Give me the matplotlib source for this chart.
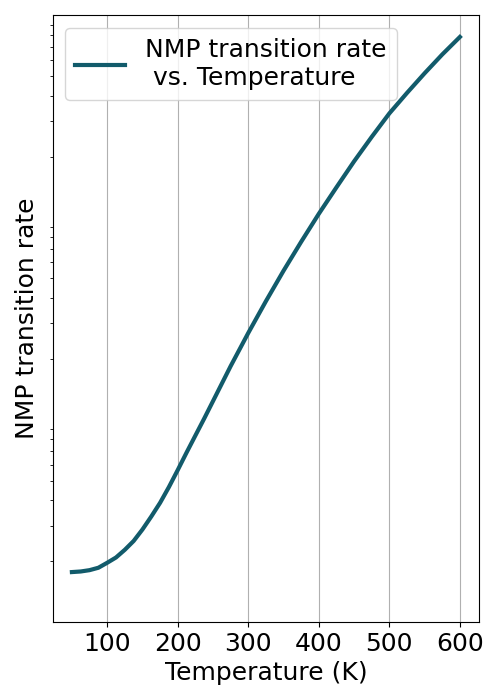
import matplotlib
matplotlib.use('Agg')
import matplotlib.pyplot as plt

# temperature (K) and NMP transition rate (arbitrary units)
temperature = [50, 62.5, 75, 87.5, 100, 112.5, 125, 137.5, 150, 162.5, 175, 187.5,
               200, 212.5, 225, 237.5, 250, 275, 300, 325, 350, 375, 400, 425,
               450, 475, 500, 525, 550, 575, 600]
rate = [176.6, 177.8, 180.5, 185.5, 196.3, 208.5, 227.6, 251.6, 286.8, 332.4,
        388.6, 465.0, 564.2, 688.3, 835.6, 1014, 1237, 1842, 2688, 3859,
        5460, 7593, 10442, 14115, 18975, 25070, 32760, 41360, 51750, 64100,
        78230]

fig, ax = plt.subplots(figsize=(5, 7), dpi=100)
fig.subplots_adjust(left=0.105, right=0.9586, top=0.978, bottom=0.1114)

ax.plot(temperature, rate, color='#125b6b', linewidth=3,
        label='NMP transition rate\n vs. Temperature')
ax.set_yscale('log')
ax.set_ylim(1e2, 1e5)
ax.set_yticks([])

ax.grid(True, axis='x')
ax.set_xticks([100, 200, 300, 400, 500, 600])
ax.tick_params(axis='both', labelsize=18)

ax.set_xlabel('Temperature (K)', fontsize=18)
ax.set_ylabel('NMP transition rate', fontsize=18)
ax.legend(loc='upper left', fontsize=18)

fig.savefig('out.png')
plt.close(fig)
